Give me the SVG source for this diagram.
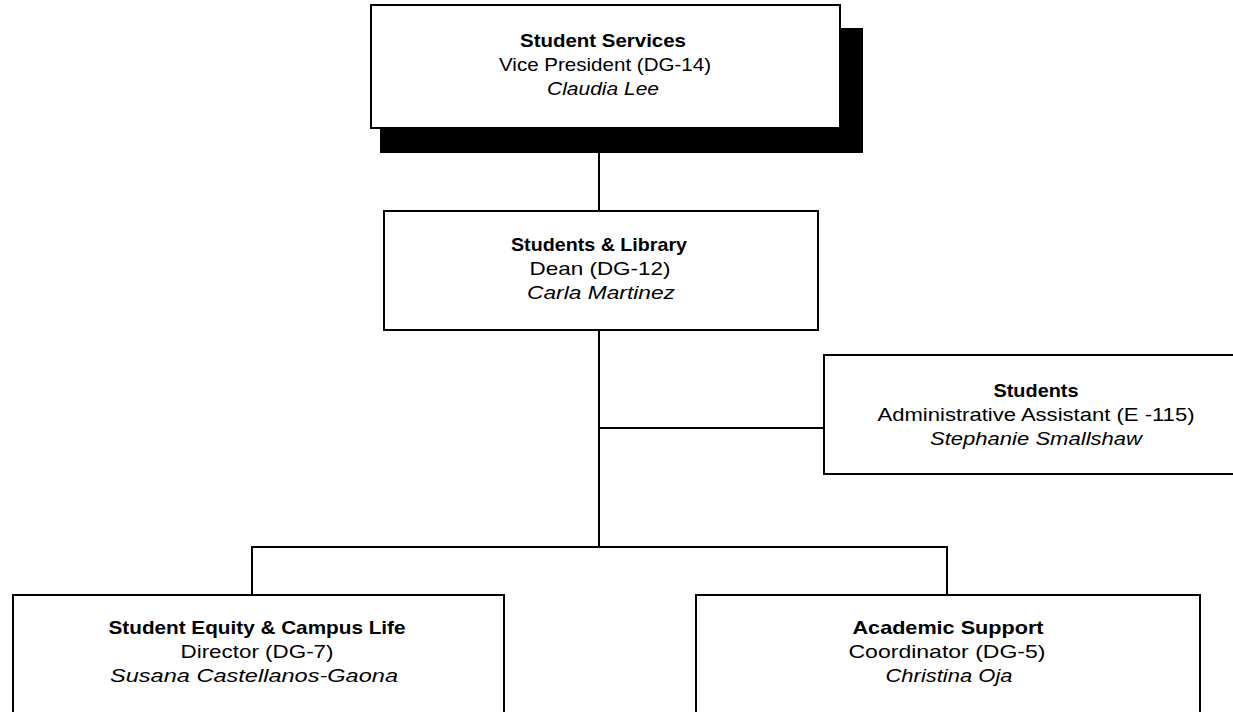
<svg xmlns="http://www.w3.org/2000/svg" width="1233" height="712" viewBox="0 0 1233 712">
<style>
.box{fill:#fff;stroke:#000;stroke-width:2}
.conn{stroke:#000;stroke-width:2;fill:none}
text{font-family:"Liberation Sans",Arial,sans-serif;font-size:18.5px;text-anchor:middle;fill:#000}
.b{font-weight:bold}
.i{font-style:italic}
</style>
<rect width="1233" height="712" fill="#fff"/>
<g id="connectors">
<line class="conn" x1="599" y1="128" x2="599" y2="211"/>
<line class="conn" x1="599" y1="330" x2="599" y2="548"/>
<line class="conn" x1="599" y1="428" x2="824" y2="428"/>
<line class="conn" x1="252" y1="547" x2="948" y2="547"/>
<line class="conn" x1="252" y1="546" x2="252" y2="595"/>
<line class="conn" x1="947" y1="546" x2="947" y2="595"/>
</g>
<g id="node-vp">
<rect x="380" y="28" width="483" height="125" fill="#000"/>
<rect class="box" x="371" y="5" width="469" height="123"/>
<text x="603" y="47" class="b" textLength="166" lengthAdjust="spacingAndGlyphs">Student Services</text>
<text x="605" y="71" textLength="212" lengthAdjust="spacingAndGlyphs">Vice President (DG-14)</text>
<text x="603" y="95" class="i" textLength="112" lengthAdjust="spacingAndGlyphs">Claudia Lee</text>
</g>
<g id="node-dean">
<rect class="box" x="384" y="211" width="434" height="119"/>
<text x="599" y="251" class="b" textLength="176" lengthAdjust="spacingAndGlyphs">Students &amp; Library</text>
<text x="600" y="275" textLength="141" lengthAdjust="spacingAndGlyphs">Dean (DG-12)</text>
<text x="601" y="299" class="i" textLength="148" lengthAdjust="spacingAndGlyphs">Carla Martinez</text>
</g>
<g id="node-admin">
<rect class="box" x="824" y="355" width="424" height="119"/>
<text x="1036" y="397" class="b" textLength="85" lengthAdjust="spacingAndGlyphs">Students</text>
<text x="1036" y="421" textLength="317" lengthAdjust="spacingAndGlyphs">Administrative Assistant (E -115)</text>
<text x="1036" y="445" class="i" textLength="212" lengthAdjust="spacingAndGlyphs">Stephanie Smallshaw</text>
</g>
<g id="node-equity">
<rect class="box" x="13" y="595" width="491" height="130"/>
<text x="257" y="634" class="b" textLength="297" lengthAdjust="spacingAndGlyphs">Student Equity &amp; Campus Life</text>
<text x="257" y="658" textLength="153" lengthAdjust="spacingAndGlyphs">Director (DG-7)</text>
<text x="254" y="682" class="i" textLength="288" lengthAdjust="spacingAndGlyphs">Susana Castellanos-Gaona</text>
</g>
<g id="node-academic">
<rect class="box" x="696" y="595" width="504" height="130"/>
<text x="948" y="634" class="b" textLength="191" lengthAdjust="spacingAndGlyphs">Academic Support</text>
<text x="947" y="658" textLength="197" lengthAdjust="spacingAndGlyphs">Coordinator (DG-5)</text>
<text x="949" y="682" class="i" textLength="127" lengthAdjust="spacingAndGlyphs">Christina Oja</text>
</g>
</svg>
